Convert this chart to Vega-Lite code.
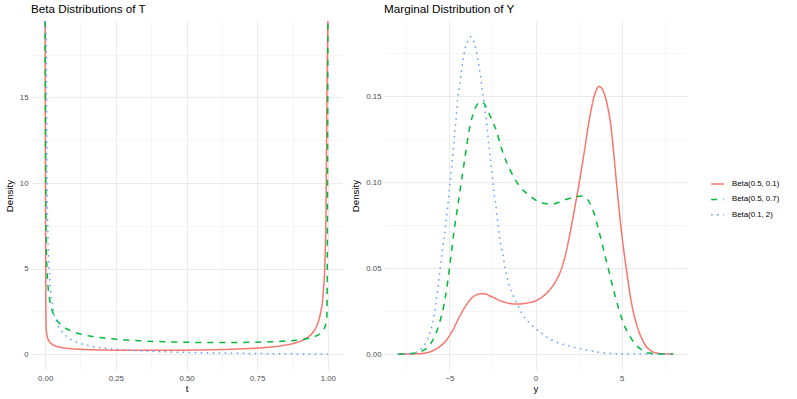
{
  "$schema": "https://vega.github.io/schema/vega-lite/v6.json",
  "padding": {"left": 4, "top": 4, "right": 4, "bottom": 4},
  "background": "white",
  "config": {
    "view": {"stroke": null},
    "font": "Liberation Sans",
    "axis": {
      "domain": false, "ticks": false, "labelColor": "#4D4D4D", "labelFontSize": 7.8,
      "titleFontSize": 9.7, "titleFontWeight": "normal", "titleColor": "#000000",
      "gridColor": "#EBEBEB", "labelPadding": 3, "labelOverlap": false, "labelFlush": false
    },
    "axisX": {"labelPadding": 4, "titlePadding": 1.5},
    "axisY": {"titlePadding": 5},
    "title": {"fontSize": 11.7, "fontWeight": "normal", "anchor": "start", "frame": "group", "color": "#000000", "offset": 5},
    "legend": {
      "orient": "none", "legendX": 679, "legendY": 155.5, "padding": 0,
      "symbolType": "stroke", "symbolSize": 160, "symbolStrokeWidth": 1.5,
      "labelFontSize": 7.8, "labelColor": "#000000", "labelOffset": 7, "rowPadding": 3.4, "labelLimit": 200
    }
  },
  "datasets": {
    "beta": [
      {"dist": "Beta(0.5, 0.1)", "t": 0, "density": 19.467},
      {"dist": "Beta(0.5, 0.1)", "t": 0.003344, "density": 1.532},
      {"dist": "Beta(0.5, 0.1)", "t": 0.006689, "density": 1.086},
      {"dist": "Beta(0.5, 0.1)", "t": 0.010033, "density": 0.890},
      {"dist": "Beta(0.5, 0.1)", "t": 0.016722, "density": 0.693},
      {"dist": "Beta(0.5, 0.1)", "t": 0.026756, "density": 0.553},
      {"dist": "Beta(0.5, 0.1)", "t": 0.040134, "density": 0.457},
      {"dist": "Beta(0.5, 0.1)", "t": 0.060201, "density": 0.381},
      {"dist": "Beta(0.5, 0.1)", "t": 0.083612, "density": 0.330},
      {"dist": "Beta(0.5, 0.1)", "t": 0.117057, "density": 0.289},
      {"dist": "Beta(0.5, 0.1)", "t": 0.167224, "density": 0.255},
      {"dist": "Beta(0.5, 0.1)", "t": 0.250836, "density": 0.229},
      {"dist": "Beta(0.5, 0.1)", "t": 0.334448, "density": 0.220},
      {"dist": "Beta(0.5, 0.1)", "t": 0.41806, "density": 0.222},
      {"dist": "Beta(0.5, 0.1)", "t": 0.501672, "density": 0.233},
      {"dist": "Beta(0.5, 0.1)", "t": 0.585284, "density": 0.255},
      {"dist": "Beta(0.5, 0.1)", "t": 0.668896, "density": 0.292},
      {"dist": "Beta(0.5, 0.1)", "t": 0.752508, "density": 0.358},
      {"dist": "Beta(0.5, 0.1)", "t": 0.83612, "density": 0.492},
      {"dist": "Beta(0.5, 0.1)", "t": 0.886288, "density": 0.664},
      {"dist": "Beta(0.5, 0.1)", "t": 0.919732, "density": 0.892},
      {"dist": "Beta(0.5, 0.1)", "t": 0.946488, "density": 1.266},
      {"dist": "Beta(0.5, 0.1)", "t": 0.963211, "density": 1.758},
      {"dist": "Beta(0.5, 0.1)", "t": 0.973244, "density": 2.329},
      {"dist": "Beta(0.5, 0.1)", "t": 0.983278, "density": 3.538},
      {"dist": "Beta(0.5, 0.1)", "t": 0.989967, "density": 5.586},
      {"dist": "Beta(0.5, 0.1)", "t": 0.993311, "density": 8.030},
      {"dist": "Beta(0.5, 0.1)", "t": 0.996656, "density": 14.959},
      {"dist": "Beta(0.5, 0.1)", "t": 1, "density": 19.467},
      {"dist": "Beta(0.5, 0.7)", "t": 0, "density": 19.467},
      {"dist": "Beta(0.5, 0.7)", "t": 0.003344, "density": 6.907},
      {"dist": "Beta(0.5, 0.7)", "t": 0.006689, "density": 4.889},
      {"dist": "Beta(0.5, 0.7)", "t": 0.010033, "density": 3.996},
      {"dist": "Beta(0.5, 0.7)", "t": 0.016722, "density": 3.102},
      {"dist": "Beta(0.5, 0.7)", "t": 0.026756, "density": 2.460},
      {"dist": "Beta(0.5, 0.7)", "t": 0.040134, "density": 2.017},
      {"dist": "Beta(0.5, 0.7)", "t": 0.060201, "density": 1.657},
      {"dist": "Beta(0.5, 0.7)", "t": 0.083612, "density": 1.417},
      {"dist": "Beta(0.5, 0.7)", "t": 0.117057, "density": 1.211},
      {"dist": "Beta(0.5, 0.7)", "t": 0.167224, "density": 1.031},
      {"dist": "Beta(0.5, 0.7)", "t": 0.250836, "density": 0.869},
      {"dist": "Beta(0.5, 0.7)", "t": 0.334448, "density": 0.780},
      {"dist": "Beta(0.5, 0.7)", "t": 0.41806, "density": 0.726},
      {"dist": "Beta(0.5, 0.7)", "t": 0.501672, "density": 0.694},
      {"dist": "Beta(0.5, 0.7)", "t": 0.585284, "density": 0.679},
      {"dist": "Beta(0.5, 0.7)", "t": 0.668896, "density": 0.680},
      {"dist": "Beta(0.5, 0.7)", "t": 0.752508, "density": 0.699},
      {"dist": "Beta(0.5, 0.7)", "t": 0.83612, "density": 0.751},
      {"dist": "Beta(0.5, 0.7)", "t": 0.886288, "density": 0.814},
      {"dist": "Beta(0.5, 0.7)", "t": 0.919732, "density": 0.887},
      {"dist": "Beta(0.5, 0.7)", "t": 0.946488, "density": 0.987},
      {"dist": "Beta(0.5, 0.7)", "t": 0.963211, "density": 1.095},
      {"dist": "Beta(0.5, 0.7)", "t": 0.973244, "density": 1.199},
      {"dist": "Beta(0.5, 0.7)", "t": 0.983278, "density": 1.373},
      {"dist": "Beta(0.5, 0.7)", "t": 0.989967, "density": 1.595},
      {"dist": "Beta(0.5, 0.7)", "t": 0.993311, "density": 1.798},
      {"dist": "Beta(0.5, 0.7)", "t": 0.996656, "density": 2.210},
      {"dist": "Beta(0.5, 0.7)", "t": 1, "density": 19.467},
      {"dist": "Beta(0.1, 2)", "t": 0, "density": 19.467},
      {"dist": "Beta(0.1, 2)", "t": 0.003344, "density": 18.54},
      {"dist": "Beta(0.1, 2)", "t": 0.006689, "density": 9.902},
      {"dist": "Beta(0.1, 2)", "t": 0.010033, "density": 6.853},
      {"dist": "Beta(0.1, 2)", "t": 0.016722, "density": 4.296},
      {"dist": "Beta(0.1, 2)", "t": 0.026756, "density": 2.786},
      {"dist": "Beta(0.1, 2)", "t": 0.040134, "density": 1.908},
      {"dist": "Beta(0.1, 2)", "t": 0.060201, "density": 1.297},
      {"dist": "Beta(0.1, 2)", "t": 0.083612, "density": 0.941},
      {"dist": "Beta(0.1, 2)", "t": 0.117057, "density": 0.670},
      {"dist": "Beta(0.1, 2)", "t": 0.167224, "density": 0.458},
      {"dist": "Beta(0.1, 2)", "t": 0.250836, "density": 0.286},
      {"dist": "Beta(0.1, 2)", "t": 0.334448, "density": 0.196},
      {"dist": "Beta(0.1, 2)", "t": 0.41806, "density": 0.140},
      {"dist": "Beta(0.1, 2)", "t": 0.501672, "density": 0.102},
      {"dist": "Beta(0.1, 2)", "t": 0.585284, "density": 0.074},
      {"dist": "Beta(0.1, 2)", "t": 0.668896, "density": 0.052},
      {"dist": "Beta(0.1, 2)", "t": 0.752508, "density": 0.035},
      {"dist": "Beta(0.1, 2)", "t": 0.83612, "density": 0.021},
      {"dist": "Beta(0.1, 2)", "t": 0.886288, "density": 0.014},
      {"dist": "Beta(0.1, 2)", "t": 0.919732, "density": 0.0095},
      {"dist": "Beta(0.1, 2)", "t": 0.946488, "density": 0.0062},
      {"dist": "Beta(0.1, 2)", "t": 0.963211, "density": 0.0042},
      {"dist": "Beta(0.1, 2)", "t": 0.973244, "density": 0.0030},
      {"dist": "Beta(0.1, 2)", "t": 0.983278, "density": 0.0019},
      {"dist": "Beta(0.1, 2)", "t": 0.989967, "density": 0.0011},
      {"dist": "Beta(0.1, 2)", "t": 0.993311, "density": 0.0007},
      {"dist": "Beta(0.1, 2)", "t": 0.996656, "density": 0.0004},
      {"dist": "Beta(0.1, 2)", "t": 1, "density": 0}
    ],
    "marg": [
      {"dist": "Beta(0.5, 0.1)", "y": -8.0, "density": 0},
      {"dist": "Beta(0.5, 0.1)", "y": -7.2, "density": 0.0001},
      {"dist": "Beta(0.5, 0.1)", "y": -6.57, "density": 0.0004},
      {"dist": "Beta(0.5, 0.1)", "y": -5.79, "density": 0.0029},
      {"dist": "Beta(0.5, 0.1)", "y": -5.21, "density": 0.0077},
      {"dist": "Beta(0.5, 0.1)", "y": -4.83, "density": 0.0135},
      {"dist": "Beta(0.5, 0.1)", "y": -4.44, "density": 0.0213},
      {"dist": "Beta(0.5, 0.1)", "y": -4.05, "density": 0.0281},
      {"dist": "Beta(0.5, 0.1)", "y": -3.67, "density": 0.0329},
      {"dist": "Beta(0.5, 0.1)", "y": -3.28, "density": 0.0349},
      {"dist": "Beta(0.5, 0.1)", "y": -3.0, "density": 0.0351},
      {"dist": "Beta(0.5, 0.1)", "y": -2.51, "density": 0.0332},
      {"dist": "Beta(0.5, 0.1)", "y": -1.93, "density": 0.0306},
      {"dist": "Beta(0.5, 0.1)", "y": -1.15, "density": 0.0291},
      {"dist": "Beta(0.5, 0.1)", "y": -0.48, "density": 0.0297},
      {"dist": "Beta(0.5, 0.1)", "y": 0.1, "density": 0.0314},
      {"dist": "Beta(0.5, 0.1)", "y": 0.59, "density": 0.0349},
      {"dist": "Beta(0.5, 0.1)", "y": 1.07, "density": 0.0407},
      {"dist": "Beta(0.5, 0.1)", "y": 1.46, "density": 0.0484},
      {"dist": "Beta(0.5, 0.1)", "y": 1.75, "density": 0.0581},
      {"dist": "Beta(0.5, 0.1)", "y": 1.98, "density": 0.0690},
      {"dist": "Beta(0.5, 0.1)", "y": 2.17, "density": 0.0790},
      {"dist": "Beta(0.5, 0.1)", "y": 2.37, "density": 0.0900},
      {"dist": "Beta(0.5, 0.1)", "y": 2.52, "density": 0.0985},
      {"dist": "Beta(0.5, 0.1)", "y": 2.71, "density": 0.1100},
      {"dist": "Beta(0.5, 0.1)", "y": 2.91, "density": 0.1225},
      {"dist": "Beta(0.5, 0.1)", "y": 3.02, "density": 0.1300},
      {"dist": "Beta(0.5, 0.1)", "y": 3.22, "density": 0.1415},
      {"dist": "Beta(0.5, 0.1)", "y": 3.41, "density": 0.1500},
      {"dist": "Beta(0.5, 0.1)", "y": 3.55, "density": 0.1540},
      {"dist": "Beta(0.5, 0.1)", "y": 3.7, "density": 0.1556},
      {"dist": "Beta(0.5, 0.1)", "y": 3.85, "density": 0.1545},
      {"dist": "Beta(0.5, 0.1)", "y": 3.99, "density": 0.1515},
      {"dist": "Beta(0.5, 0.1)", "y": 4.18, "density": 0.1444},
      {"dist": "Beta(0.5, 0.1)", "y": 4.38, "density": 0.1327},
      {"dist": "Beta(0.5, 0.1)", "y": 4.55, "density": 0.1160},
      {"dist": "Beta(0.5, 0.1)", "y": 4.74, "density": 0.0960},
      {"dist": "Beta(0.5, 0.1)", "y": 4.94, "density": 0.0760},
      {"dist": "Beta(0.5, 0.1)", "y": 5.13, "density": 0.0600},
      {"dist": "Beta(0.5, 0.1)", "y": 5.32, "density": 0.0465},
      {"dist": "Beta(0.5, 0.1)", "y": 5.52, "density": 0.0329},
      {"dist": "Beta(0.5, 0.1)", "y": 5.81, "density": 0.0194},
      {"dist": "Beta(0.5, 0.1)", "y": 6.19, "density": 0.0087},
      {"dist": "Beta(0.5, 0.1)", "y": 6.58, "density": 0.0029},
      {"dist": "Beta(0.5, 0.1)", "y": 7.16, "density": 0.0004},
      {"dist": "Beta(0.5, 0.1)", "y": 8.0, "density": 0},
      {"dist": "Beta(0.5, 0.7)", "y": -8.0, "density": 0},
      {"dist": "Beta(0.5, 0.7)", "y": -7.2, "density": 0.0003},
      {"dist": "Beta(0.5, 0.7)", "y": -6.57, "density": 0.0019},
      {"dist": "Beta(0.5, 0.7)", "y": -5.99, "density": 0.0077},
      {"dist": "Beta(0.5, 0.7)", "y": -5.6, "density": 0.0174},
      {"dist": "Beta(0.5, 0.7)", "y": -5.31, "density": 0.0290},
      {"dist": "Beta(0.5, 0.7)", "y": -5.12, "density": 0.0407},
      {"dist": "Beta(0.5, 0.7)", "y": -4.92, "density": 0.0562},
      {"dist": "Beta(0.5, 0.7)", "y": -4.73, "density": 0.0717},
      {"dist": "Beta(0.5, 0.7)", "y": -4.54, "density": 0.0845},
      {"dist": "Beta(0.5, 0.7)", "y": -4.38, "density": 0.0955},
      {"dist": "Beta(0.5, 0.7)", "y": -4.2, "density": 0.1075},
      {"dist": "Beta(0.5, 0.7)", "y": -4.05, "density": 0.1175},
      {"dist": "Beta(0.5, 0.7)", "y": -3.9, "density": 0.1275},
      {"dist": "Beta(0.5, 0.7)", "y": -3.74, "density": 0.1355},
      {"dist": "Beta(0.5, 0.7)", "y": -3.55, "density": 0.1418},
      {"dist": "Beta(0.5, 0.7)", "y": -3.36, "density": 0.1455},
      {"dist": "Beta(0.5, 0.7)", "y": -3.15, "density": 0.1468},
      {"dist": "Beta(0.5, 0.7)", "y": -2.95, "density": 0.1452},
      {"dist": "Beta(0.5, 0.7)", "y": -2.78, "density": 0.1418},
      {"dist": "Beta(0.5, 0.7)", "y": -2.51, "density": 0.1356},
      {"dist": "Beta(0.5, 0.7)", "y": -2.27, "density": 0.1298},
      {"dist": "Beta(0.5, 0.7)", "y": -2.02, "density": 0.1211},
      {"dist": "Beta(0.5, 0.7)", "y": -1.83, "density": 0.1153},
      {"dist": "Beta(0.5, 0.7)", "y": -1.54, "density": 0.1085},
      {"dist": "Beta(0.5, 0.7)", "y": -1.25, "density": 0.1027},
      {"dist": "Beta(0.5, 0.7)", "y": -0.86, "density": 0.0969},
      {"dist": "Beta(0.5, 0.7)", "y": -0.38, "density": 0.0925},
      {"dist": "Beta(0.5, 0.7)", "y": 0.3, "density": 0.0881},
      {"dist": "Beta(0.5, 0.7)", "y": 0.97, "density": 0.0872},
      {"dist": "Beta(0.5, 0.7)", "y": 1.65, "density": 0.0895},
      {"dist": "Beta(0.5, 0.7)", "y": 2.33, "density": 0.0915},
      {"dist": "Beta(0.5, 0.7)", "y": 2.71, "density": 0.0920},
      {"dist": "Beta(0.5, 0.7)", "y": 3.0, "density": 0.0901},
      {"dist": "Beta(0.5, 0.7)", "y": 3.39, "density": 0.0823},
      {"dist": "Beta(0.5, 0.7)", "y": 3.68, "density": 0.0717},
      {"dist": "Beta(0.5, 0.7)", "y": 3.97, "density": 0.0600},
      {"dist": "Beta(0.5, 0.7)", "y": 4.26, "density": 0.0484},
      {"dist": "Beta(0.5, 0.7)", "y": 4.55, "density": 0.0368},
      {"dist": "Beta(0.5, 0.7)", "y": 4.84, "density": 0.0262},
      {"dist": "Beta(0.5, 0.7)", "y": 5.13, "density": 0.0174},
      {"dist": "Beta(0.5, 0.7)", "y": 5.52, "density": 0.0097},
      {"dist": "Beta(0.5, 0.7)", "y": 6.0, "density": 0.0038},
      {"dist": "Beta(0.5, 0.7)", "y": 6.58, "density": 0.0006},
      {"dist": "Beta(0.5, 0.7)", "y": 7.2, "density": 0.0001},
      {"dist": "Beta(0.5, 0.7)", "y": 8.0, "density": 0},
      {"dist": "Beta(0.1, 2)", "y": -8.0, "density": 0},
      {"dist": "Beta(0.1, 2)", "y": -7.5, "density": 0.0002},
      {"dist": "Beta(0.1, 2)", "y": -7.0, "density": 0.0009},
      {"dist": "Beta(0.1, 2)", "y": -6.6, "density": 0.0035},
      {"dist": "Beta(0.1, 2)", "y": -6.37, "density": 0.0067},
      {"dist": "Beta(0.1, 2)", "y": -6.15, "density": 0.0120},
      {"dist": "Beta(0.1, 2)", "y": -5.99, "density": 0.0174},
      {"dist": "Beta(0.1, 2)", "y": -5.79, "density": 0.0290},
      {"dist": "Beta(0.1, 2)", "y": -5.6, "density": 0.0445},
      {"dist": "Beta(0.1, 2)", "y": -5.41, "density": 0.0600},
      {"dist": "Beta(0.1, 2)", "y": -5.21, "density": 0.0756},
      {"dist": "Beta(0.1, 2)", "y": -5.02, "density": 0.0940},
      {"dist": "Beta(0.1, 2)", "y": -4.88, "density": 0.1080},
      {"dist": "Beta(0.1, 2)", "y": -4.75, "density": 0.1220},
      {"dist": "Beta(0.1, 2)", "y": -4.62, "density": 0.1360},
      {"dist": "Beta(0.1, 2)", "y": -4.52, "density": 0.1484},
      {"dist": "Beta(0.1, 2)", "y": -4.42, "density": 0.1560},
      {"dist": "Beta(0.1, 2)", "y": -4.32, "density": 0.1630},
      {"dist": "Beta(0.1, 2)", "y": -4.22, "density": 0.1700},
      {"dist": "Beta(0.1, 2)", "y": -4.09, "density": 0.1775},
      {"dist": "Beta(0.1, 2)", "y": -3.97, "density": 0.1810},
      {"dist": "Beta(0.1, 2)", "y": -3.78, "density": 0.1845},
      {"dist": "Beta(0.1, 2)", "y": -3.55, "density": 0.1808},
      {"dist": "Beta(0.1, 2)", "y": -3.39, "density": 0.1736},
      {"dist": "Beta(0.1, 2)", "y": -3.26, "density": 0.1663},
      {"dist": "Beta(0.1, 2)", "y": -3.16, "density": 0.1590},
      {"dist": "Beta(0.1, 2)", "y": -3.07, "density": 0.1520},
      {"dist": "Beta(0.1, 2)", "y": -2.97, "density": 0.1445},
      {"dist": "Beta(0.1, 2)", "y": -2.87, "density": 0.1374},
      {"dist": "Beta(0.1, 2)", "y": -2.7, "density": 0.1210},
      {"dist": "Beta(0.1, 2)", "y": -2.5, "density": 0.1025},
      {"dist": "Beta(0.1, 2)", "y": -2.41, "density": 0.0940},
      {"dist": "Beta(0.1, 2)", "y": -2.31, "density": 0.0872},
      {"dist": "Beta(0.1, 2)", "y": -2.18, "density": 0.0756},
      {"dist": "Beta(0.1, 2)", "y": -2.02, "density": 0.0640},
      {"dist": "Beta(0.1, 2)", "y": -1.87, "density": 0.0562},
      {"dist": "Beta(0.1, 2)", "y": -1.73, "density": 0.0484},
      {"dist": "Beta(0.1, 2)", "y": -1.54, "density": 0.0407},
      {"dist": "Beta(0.1, 2)", "y": -1.25, "density": 0.0329},
      {"dist": "Beta(0.1, 2)", "y": -1.06, "density": 0.0290},
      {"dist": "Beta(0.1, 2)", "y": -0.77, "density": 0.0233},
      {"dist": "Beta(0.1, 2)", "y": -0.28, "density": 0.0174},
      {"dist": "Beta(0.1, 2)", "y": 0.3, "density": 0.0126},
      {"dist": "Beta(0.1, 2)", "y": 0.97, "density": 0.0081},
      {"dist": "Beta(0.1, 2)", "y": 1.94, "density": 0.0048},
      {"dist": "Beta(0.1, 2)", "y": 2.71, "density": 0.0029},
      {"dist": "Beta(0.1, 2)", "y": 3.0, "density": 0.0023},
      {"dist": "Beta(0.1, 2)", "y": 3.87, "density": 0.0008},
      {"dist": "Beta(0.1, 2)", "y": 5.2, "density": 0.0001},
      {"dist": "Beta(0.1, 2)", "y": 6.5, "density": 0},
      {"dist": "Beta(0.1, 2)", "y": 8.0, "density": 0}
    ]
  },
  "spacing": 8,
  "resolve": {"scale": {"color": "shared", "strokeDash": "shared"}},
  "hconcat": [
    {
      "title": {"text": "Beta Distributions of T"},
      "width": 311,
      "height": 349,
      "data": {"name": "beta"},
      "mark": {"type": "line", "clip": true, "strokeWidth": 1.5, "interpolate": "monotone"},
      "encoding": {
        "x": {
          "field": "t", "type": "quantitative",
          "scale": {"domain": [-0.05, 1.05], "nice": false, "zero": false},
          "axis": {
            "title": "t",
            "values": [0, 0.125, 0.25, 0.375, 0.5, 0.625, 0.75, 0.875, 1],
            "labelExpr": "round(datum.value * 8) % 2 != 0 ? '' : format(datum.value, '.2f')",
            "gridWidth": {"condition": {"test": "round(datum.value * 8) % 2 != 0", "value": 0.5}, "value": 1}
          }
        },
        "y": {
          "field": "density", "type": "quantitative",
          "scale": {"domain": [-0.927, 19.467], "nice": false, "zero": false},
          "axis": {
            "title": "Density",
            "values": [0, 2.5, 5, 7.5, 10, 12.5, 15, 17.5],
            "labelExpr": "round(datum.value * 2) % 2 != 0 ? '' : format(datum.value, 'd')",
            "gridWidth": {"condition": {"test": "round(datum.value * 2) % 2 != 0", "value": 0.5}, "value": 1}
          }
        },
        "color": {
          "field": "dist", "type": "nominal",
          "scale": {"domain": ["Beta(0.5, 0.1)", "Beta(0.5, 0.7)", "Beta(0.1, 2)"], "range": ["#F8766D", "#00BA38", "#619CFF"]},
          "legend": {"title": null}
        },
        "strokeDash": {
          "field": "dist", "type": "nominal",
          "scale": {"domain": ["Beta(0.5, 0.1)", "Beta(0.5, 0.7)", "Beta(0.1, 2)"], "range": [[1, 0], [6, 6], [1.5, 4.5]]},
          "legend": {"title": null}
        }
      }
    },
    {
      "title": {"text": "Marginal Distribution of Y"},
      "width": 303,
      "height": 349,
      "data": {"name": "marg"},
      "mark": {"type": "line", "clip": true, "strokeWidth": 1.5, "interpolate": "monotone"},
      "encoding": {
        "x": {
          "field": "y", "type": "quantitative",
          "scale": {"domain": [-8.8, 8.8], "nice": false, "zero": false},
          "axis": {
            "title": "y",
            "values": [-7.5, -5, -2.5, 0, 2.5, 5, 7.5],
            "labelExpr": "round(datum.value * 2) % 2 != 0 ? '' : format(datum.value, 'd')",
            "gridWidth": {"condition": {"test": "round(datum.value * 2) % 2 != 0", "value": 0.5}, "value": 1}
          }
        },
        "y": {
          "field": "density", "type": "quantitative",
          "scale": {"domain": [-0.00923, 0.1937], "nice": false, "zero": false},
          "axis": {
            "title": "Density",
            "values": [0, 0.025, 0.05, 0.075, 0.1, 0.125, 0.15, 0.175],
            "labelExpr": "round(datum.value * 40) % 2 != 0 ? '' : format(datum.value, '.2f')",
            "gridWidth": {"condition": {"test": "round(datum.value * 40) % 2 != 0", "value": 0.5}, "value": 1}
          }
        },
        "color": {
          "field": "dist", "type": "nominal",
          "scale": {"domain": ["Beta(0.5, 0.1)", "Beta(0.5, 0.7)", "Beta(0.1, 2)"], "range": ["#F8766D", "#00BA38", "#619CFF"]},
          "legend": {"title": null}
        },
        "strokeDash": {
          "field": "dist", "type": "nominal",
          "scale": {"domain": ["Beta(0.5, 0.1)", "Beta(0.5, 0.7)", "Beta(0.1, 2)"], "range": [[1, 0], [6, 6], [1.5, 4.5]]},
          "legend": {"title": null}
        }
      }
    }
  ]
}
